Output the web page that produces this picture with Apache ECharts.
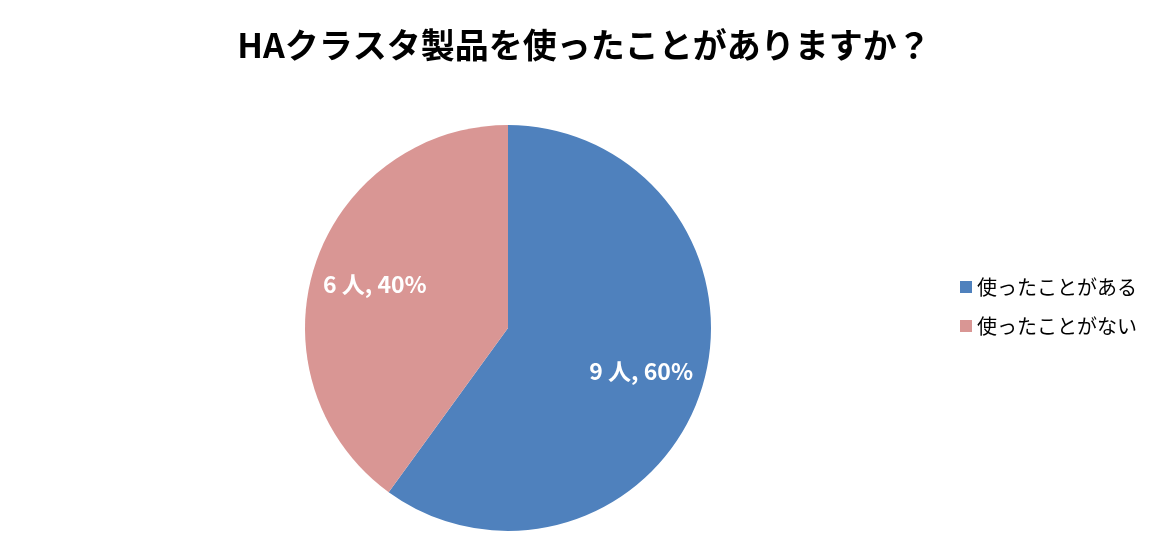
<!DOCTYPE html>
<html>
<head>
<meta charset="utf-8">
<script src="https://cdn.jsdelivr.net/npm/echarts@6/dist/echarts.min.js"></script>
<style>
  html, body { margin: 0; padding: 0; background: #fff; }
  #chart { width: 1174px; height: 545px; }
</style>
</head>
<body>
<div id="chart"></div>
<script>
var categories = ['使ったことがある', '使ったことがない']
var counts = [9, 6]
var colors = ['#4f81bd', '#d99694']

var myChart = echarts.init(document.getElementById('chart'))

var pieData = categories.map(function (name, i) {
  return { name: name, value: counts[i] }
})

myChart.setOption({
  color: colors,
  animation: false,
  textStyle: { fontFamily: '"Noto Sans CJK JP", "Noto Sans", sans-serif' },
  title: {
    text: 'HAクラスタ製品を使ったことがありますか？',
    left: 579,
    textAlign: 'center',
    top: 23,
    textStyle: { fontSize: 34, fontWeight: 'bold', color: '#000' }
  },
  legend: {
    orient: 'vertical',
    left: 955,
    top: 272,
    icon: 'rect',
    itemWidth: 12,
    itemHeight: 12,
    itemGap: 19,
    data: categories,
    textStyle: { fontSize: 20, color: '#000' }
  },
  series: [
    {
      type: 'pie',
      center: [508, 328],
      radius: 203,
      startAngle: 90,
      label: { show: false },
      labelLine: { show: false },
      emphasis: { disabled: true },
      data: pieData
    },
    {
      // transparent ring only to place labels further out
      type: 'pie',
      center: [508, 328],
      radius: [76, 198],
      startAngle: 90,
      silent: true,
      itemStyle: { color: 'rgba(0,0,0,0)', borderWidth: 0 },
      label: {
        show: true,
        position: 'inside',
        formatter: '{c} 人, {d}%',
        color: '#fff',
        fontSize: 23,
        fontWeight: 'bold'
      },
      labelLine: { show: false },
      data: pieData
    }
  ]
})
</script>
</body>
</html>
